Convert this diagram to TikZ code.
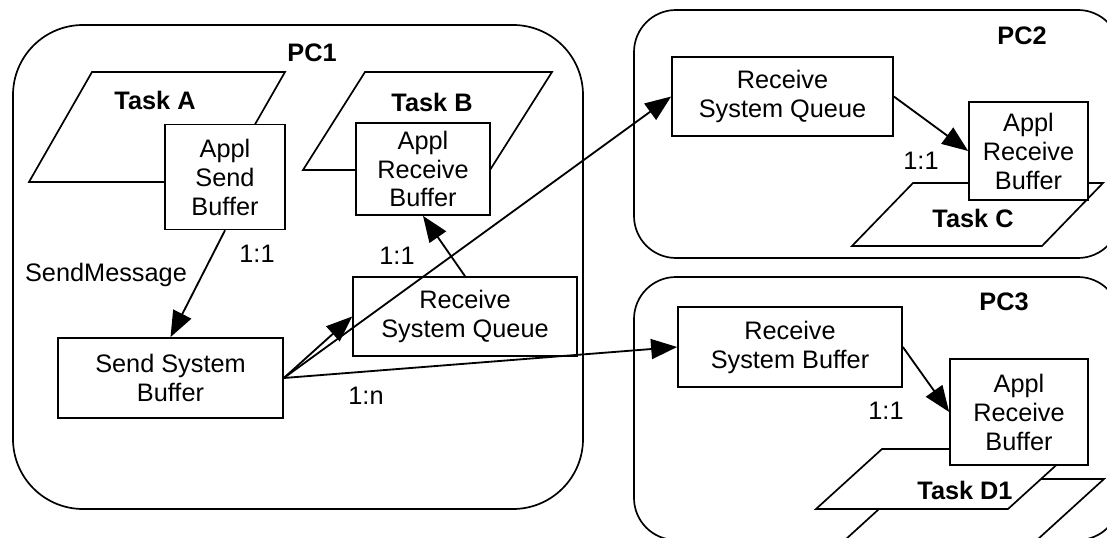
\documentclass[tikz,border=0pt]{standalone}
\usepackage{fontspec}
\setmainfont{Liberation Sans}
\usetikzlibrary{arrows.meta}

\tikzset{
  pc/.style={draw, line width=1.2pt, rounded corners=1.05cm},
  task/.style={draw, fill=white, line width=1.2pt},
  buffer/.style={draw, fill=white, line width=1.2pt, align=center, inner sep=0pt},
  tasklabel/.style={font=\fontsize{18}{20.6}\selectfont\bfseries},
  ratio/.style={anchor=base},
  msg/.style={-{Triangle[length=0.65cm,width=0.5cm]}, line width=1.3pt},
}

\begin{document}
\begin{tikzpicture}[every node/.style={font=\fontsize{18}{20.6}\selectfont}]
  \useasboundingbox (0,0) rectangle (27.675,13.45);
  \clip (0,0) rectangle (27.675,13.45);
  % the three computers
  \draw[pc, rounded corners=1.75cm] (0.325,0.725) rectangle (14.575,12.825);
  \draw[pc] (15.85,7.0) rectangle (28.0,13.2);
  \draw[pc] (15.85,-0.05) rectangle (28.0,6.525);
  % tasks
  \draw[task] (2.3,11.65) -- (7.125,11.65) -- (5.55,8.9) -- (0.725,8.9) -- cycle;
  \draw[task] (9.125,11.65) -- (13.8,11.65) -- (12.25,9.2) -- (7.575,9.2) -- cycle;
  \draw[task] (22.825,8.875) -- (27.575,8.875) -- (26.05,7.3) -- (21.3,7.3) -- cycle;
  \draw[task] (22.8,1.475) -- (27.6,1.475) -- (25.65,-0.3) -- (20.85,-0.3) -- cycle;
  \draw[task] (22.05,2.225) -- (26.85,2.225) -- (25.2,0.725) -- (20.4,0.725) -- cycle;
  % buffers and queues
  \node[buffer, minimum width=3cm, minimum height=2.625cm] (asb) at (5.625,9.025) {Appl\\Send\\Buffer};
  \node[buffer, minimum width=3.35cm, minimum height=2.3cm] (arb1) at (10.575,9.225) {Appl\\Receive\\Buffer};
  \node[buffer, minimum width=5.625cm, minimum height=2cm] (ssb) at (4.2625,4.0) {Send System\\Buffer};
  \node[buffer, minimum width=5.6cm, minimum height=1.975cm] (rsq1) at (11.625,5.5375) {Receive\\System Queue};
  \node[buffer, minimum width=5.525cm, minimum height=1.975cm] (rsq2) at (19.5625,11.0375) {Receive\\System Queue};
  \node[buffer, minimum width=2.975cm, minimum height=2.45cm] (arb2) at (25.7125,9.675) {Appl\\Receive\\Buffer};
  \node[buffer, minimum width=5.6cm, minimum height=2cm] (rsb) at (19.75,4.775) {Receive\\System Buffer};
  \node[buffer, minimum width=3.45cm, minimum height=2.65cm] (arb3) at (25.475,3.15) {Appl\\Receive\\Buffer};
  % labels
  \node[tasklabel] (pc1) at (7.8,12.125) {PC1};
  \node[tasklabel] (pc2) at (25.55,12.55) {PC2};
  \node[tasklabel] (pc3) at (25.1,5.9) {PC3};
  \node[tasklabel] (taska) at (3.875,10.95) {Task A};
  \node[tasklabel] (taskb) at (10.8,10.9) {Task B};
  \node[tasklabel] (taskc) at (24.325,8.0) {Task C};
  \node[tasklabel] (taskd) at (24.125,1.2) {Task D1};
  \node[ratio] (sendmsg) at (2.65,6.4) {SendMessage};
  \node[ratio] (r1) at (6.425,6.875) {1:1};
  \node[ratio] (r2) at (9.925,6.825) {1:1};
  \node[ratio] (r3) at (9.15,3.325) {1:n};
  \node[ratio] (r4) at (23.025,9.2) {1:1};
  \node[ratio] (r5) at (22.15,2.95) {1:1};
  % messages
  \draw[msg] (asb.south) -- (ssb.north);
  \draw[msg] (rsq1.north) -- (arb1.south);
  \draw[msg] (ssb.east) -- (rsq1.west);
  \draw[msg] (ssb.east) -- (rsq2.west);
  \draw[msg] (ssb.east) -- (rsb.west);
  \draw[msg] (rsq2.east) -- (arb2.west);
  \draw[msg] (rsb.east) -- (arb3.west);
\end{tikzpicture}
\end{document}
